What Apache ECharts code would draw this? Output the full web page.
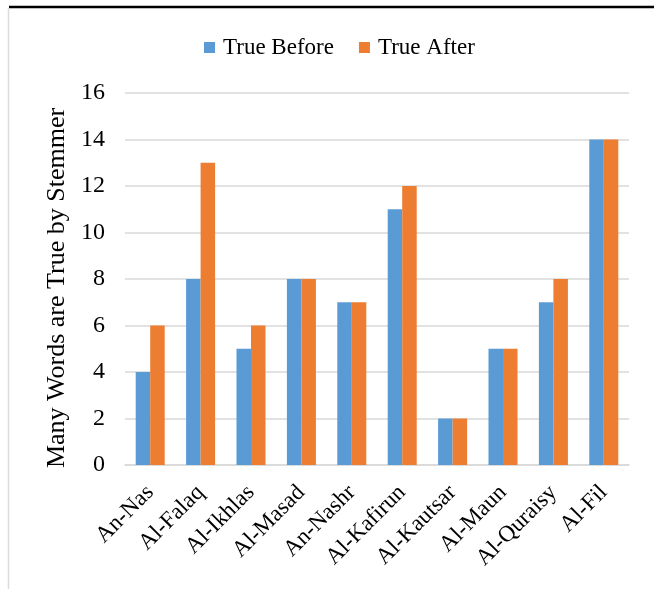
<!DOCTYPE html>
<html>
<head>
<meta charset="utf-8">
<script src="https://cdn.jsdelivr.net/npm/echarts@6/dist/echarts.min.js"></script>
<style>
html,body{margin:0;padding:0;background:#fff;}
#chart{width:654px;height:589px;}
</style>
</head>
<body>
<div id="chart"></div>
<script>
const categories = ['An-Nas','Al-Falaq','Al-Ikhlas','Al-Masad','An-Nashr','Al-Kafirun','Al-Kautsar','Al-Maun','Al-Quraisy','Al-Fil'];
const trueBefore = [4, 8, 5, 8, 7, 11, 2, 5, 7, 14];
const trueAfter = [6, 13, 6, 8, 7, 12, 2, 5, 8, 14];
const seriesNames = ['True Before', 'True After'];
const yTitle = 'Many Words are True by Stemmer';

const FONT = '"Liberation Serif", "Times New Roman", serif';
const chart = echarts.init(document.getElementById('chart'), null, {renderer: 'canvas'});
chart.setOption({
  animation: false,
  backgroundColor: '#fff',
  textStyle: {fontFamily: FONT, color: '#000'},
  graphic: [
    {type: 'line', shape: {x1: 9, y1: 7, x2: 654, y2: 7}, style: {stroke: '#000', lineWidth: 2.5}},
    {type: 'line', shape: {x1: 8.5, y1: 8, x2: 8.5, y2: 589}, style: {stroke: '#DCDCDC', lineWidth: 1.5}}
  ],
  color: ['#5B9BD5', '#ED7D31'],
  legend: {
    data: seriesNames,
    left: 199,
    top: 31,
    itemWidth: 11,
    itemHeight: 11,
    itemGap: 25,
    icon: 'rect',
    textStyle: {fontFamily: FONT, fontSize: 23, color: '#000', padding: [0, 0, 0, 3]}
  },
  grid: {left: 125, right: 25, top: 93, bottom: 124, containLabel: false},
  xAxis: {
    type: 'category',
    data: categories,
    axisLine: {lineStyle: {color: '#D9D9D9', width: 1.5}},
    axisTick: {show: false},
    axisLabel: {rotate: 45, margin: 24, fontFamily: FONT, fontSize: 23, color: '#000', interval: 0, padding: [6, 0, 0, 0]}
  },
  yAxis: {
    type: 'value',
    min: 0, max: 16, interval: 2,
    name: yTitle,
    nameLocation: 'middle',
    nameGap: 54,
    nameTextStyle: {fontFamily: FONT, fontSize: 26, color: '#000', padding: [0, 18, 0, 0]},
    axisLine: {show: false},
    axisTick: {show: false},
    splitLine: {lineStyle: {color: '#D9D9D9', width: 1.5}},
    axisLabel: {margin: 20, fontFamily: FONT, fontSize: 24, color: '#000'}
  },
  series: [
    {name: seriesNames[0], type: 'bar', data: trueBefore, barWidth: 14.5, barGap: '0%'},
    {name: seriesNames[1], type: 'bar', data: trueAfter, barWidth: 14.5, barGap: '0%'}
  ]
});
</script>
</body>
</html>
